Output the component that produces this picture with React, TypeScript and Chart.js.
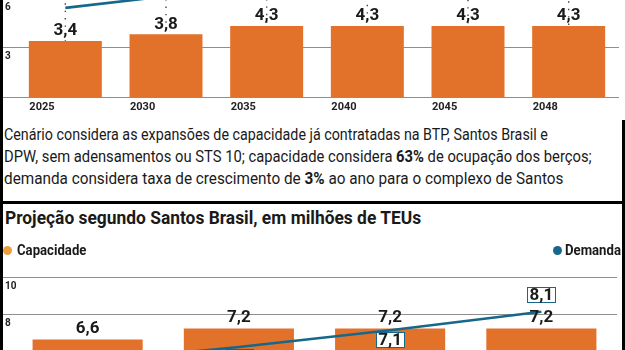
import React, { useEffect, useRef } from "react";
import { Chart, registerables } from "chart.js";

Chart.register(...registerables);

// ---------- data ----------
const topYears = ["2025", "2030", "2035", "2040", "2045", "2048"];
const topCapacity = [3.4, 3.8, 4.3, 4.3, 4.3, 4.3];
const topDemand = [5.4, 6.1, 7.0, 8.0, 9.2, 10.0];
const topGridValues = [0, 3, 6];
const topGridLabels = ["", "3", "6"];

const bottomYears = ["2025", "2030", "2035", "2040"];
const bottomCapacity = [6.6, 7.2, 7.2, 7.2];
const bottomDemand = [5.4, 6.2, 7.1, 8.1];
const bottomGridValues = [8, 10];
const bottomGridLabels = ["8", "10"];

const ORANGE = "#E2722A";
const TEAL = "#17678A";
const INK = "#1a1a1a";

const fmt = (v: number) => v.toFixed(1).replace(".", ",");

const decorPlugin = {
  id: "decor",
  beforeDatasetsDraw(chart: any, _a: any, opts: any) {
    const { ctx, chartArea, scales } = chart;
    ctx.save();
    opts.gridValues.forEach((v: number, i: number) => {
      const py = Math.round(scales.y.getPixelForValue(v)) + 0.5;
      ctx.strokeStyle = "#8e8e8e";
      ctx.lineWidth = 1.2;
      ctx.beginPath();
      ctx.moveTo(3, py);
      ctx.lineTo(chartArea.right, py);
      ctx.stroke();
      const lab = opts.gridLabels[i];
      if (lab) {
        ctx.fillStyle = "#222";
        ctx.font = "bold 10px Roboto";
        ctx.textAlign = "left";
        ctx.textBaseline = "top";
        ctx.fillText(lab, 5, py + 4);
      }
    });
    ctx.restore();
  },
  afterDatasetsDraw(chart: any, _a: any, opts: any) {
    const { ctx } = chart;
    const bars = chart.getDatasetMeta(0).data;
    const pts = chart.getDatasetMeta(1).data;
    const cap = chart.data.datasets[0].data as number[];
    const dem = chart.data.datasets[1].data as number[];
    ctx.save();
    if (opts.dropLines) {
      ctx.setLineDash([1.4, 6]);
      ctx.strokeStyle = "#444";
      ctx.lineWidth = 1.4;
      bars.forEach((b: any, i: number) => {
        const p = pts[i];
        ctx.beginPath();
        ctx.moveTo(b.x, p.y - 12);
        ctx.lineTo(b.x, b.y);
        ctx.stroke();
      });
      ctx.setLineDash([]);
    }
    ctx.font = "bold 17px Roboto";
    ctx.textAlign = "center";
    ctx.textBaseline = "middle";
    ctx.fillStyle = INK;
    bars.forEach((b: any, i: number) => {
      ctx.fillText(fmt(cap[i]), b.x, b.y - opts.labelGap);
    });
    pts.forEach((p: any, i: number) => {
      const txt = fmt(dem[i]);
      const w = Math.round(ctx.measureText(txt).width + 4);
      const h = 15;
      const below = dem[i] < cap[i];
      const cy = below ? p.y + 2 + h / 2 : p.y - 10 - h / 2;
      const bx = Math.round(p.x - w / 2) + 0.5;
      const by = Math.round(cy - h / 2) + 0.5;
      ctx.fillStyle = "#fff";
      ctx.fillRect(bx, by, w, h);
      ctx.strokeStyle = TEAL;
      ctx.lineWidth = 1;
      ctx.strokeRect(bx, by, w, h);
      ctx.fillStyle = INK;
      ctx.fillText(txt, p.x, cy + 1);
    });
    ctx.restore();
  },
};

function buildConfig(p: {
  labels: string[];
  capacity: number[];
  demand: number[];
  yMax: number;
  padLeft: number;
  padRight: number;
  barPct: number;
  showX: boolean;
  gridValues: number[];
  gridLabels: string[];
  dropLines: boolean;
  labelGap: number;
  labelOffset: number;
}): any {
  return {
    type: "bar",
    data: {
      labels: p.labels,
      datasets: [
        {
          type: "bar",
          data: p.capacity,
          backgroundColor: ORANGE,
          categoryPercentage: 1,
          barPercentage: p.barPct,
          order: 2,
        },
        {
          type: "line",
          data: p.demand,
          borderColor: TEAL,
          borderWidth: 2.6,
          pointRadius: 0,
          tension: 0,
          order: 1,
        },
      ],
    },
    options: {
      animation: false,
      responsive: false,
      events: [],
      layout: { padding: { left: p.padLeft, right: p.padRight, top: 0, bottom: 0 } },
      plugins: {
        legend: { display: false },
        tooltip: { enabled: false },
        decor: {
          gridValues: p.gridValues,
          gridLabels: p.gridLabels,
          dropLines: p.dropLines,
          labelGap: p.labelGap,
        },
      },
      scales: {
        x: {
          display: p.showX,
          grid: { display: false, drawTicks: false },
          border: { display: false },
          ticks: {
            align: "start",
            labelOffset: p.labelOffset,
            padding: 4,
            color: "#222",
            font: { family: "Roboto", weight: "bold", size: 11 },
            maxRotation: 0,
            autoSkip: false,
          },
          afterFit: (s: any) => {
            s.height = 16;
          },
        },
        y: { display: false, min: 0, max: p.yMax },
      },
    },
    plugins: [decorPlugin],
  };
}

function ChartCanvas({ config, style, width, height }: any) {
  const ref = useRef<HTMLCanvasElement>(null);
  useEffect(() => {
    if (!ref.current) return;
    const c = new Chart(ref.current, config);
    return () => c.destroy();
  }, []);
  return <canvas ref={ref} width={width} height={height} style={{ position: "absolute", ...style }} />;
}

const noteStyle = (top: number, sx: number): React.CSSProperties => ({
  position: "absolute",
  left: 4,
  top,
  fontFamily: "Roboto",
  fontSize: 17,
  lineHeight: "22px",
  color: INK,
  whiteSpace: "nowrap",
  transform: `scaleX(${sx})`,
  transformOrigin: "left center",
});

const legendText = (left: number): React.CSSProperties => ({
  position: "absolute",
  left,
  top: 241,
  fontFamily: "Roboto",
  fontWeight: 700,
  fontSize: 14,
  lineHeight: "18px",
  color: INK,
  whiteSpace: "nowrap",
  transform: "scaleX(0.94)",
  transformOrigin: "left center",
});

export default function App() {
  useEffect(() => {
    document.body.style.margin = "0";
  }, []);

  const topCfg = buildConfig({
    labels: topYears,
    capacity: topCapacity,
    demand: topDemand,
    yMax: 8.3,
    padLeft: 15,
    padRight: 6,
    barPct: 0.725,
    showX: true,
    gridValues: topGridValues,
    gridLabels: topGridLabels,
    dropLines: true,
    labelGap: 10,
    labelOffset: -36,
  });
  const bottomCfg = buildConfig({
    labels: bottomYears,
    capacity: bottomCapacity,
    demand: bottomDemand,
    yMax: 11,
    padLeft: 12,
    padRight: 8,
    barPct: 0.728,
    showX: false,
    gridValues: bottomGridValues,
    gridLabels: bottomGridLabels,
    dropLines: false,
    labelGap: 11,
    labelOffset: 0,
  });

  return (
    <div
      style={{
        position: "fixed",
        left: 0,
        top: 0,
        width: 625,
        height: 350,
        overflow: "hidden",
        background: "#fff",
      }}
    >
      <ChartCanvas config={topCfg} width={625} height={153} style={{ left: 0, top: -40 }} />
      <ChartCanvas config={bottomCfg} width={625} height={220} style={{ left: 0, top: 258 }} />

      <div style={noteStyle(123, 0.84)}>
        Cenário considera as expansões de capacidade já contratadas na BTP, Santos Brasil e
      </div>
      <div style={noteStyle(145, 0.868)}>
        DPW, sem adensamentos ou STS 10; capacidade considera <b>63%</b> de ocupação dos berços;
      </div>
      <div style={noteStyle(167, 0.9)}>
        demanda considera taxa de crescimento de <b>3%</b> ao ano para o complexo de Santos
      </div>

      <div style={{ position: "absolute", left: 3, top: 201, width: 622, height: 3, background: "#000" }} />

      <div
        style={{
          position: "absolute",
          left: 5,
          top: 207,
          fontFamily: "Roboto",
          fontWeight: 700,
          fontSize: 19,
          lineHeight: "22px",
          color: INK,
          whiteSpace: "nowrap",
          transform: "scaleX(0.915)",
          transformOrigin: "left center",
        }}
      >
        Projeção segundo Santos Brasil, em milhões de TEUs
      </div>

      <div style={{ position: "absolute", left: 3, top: 246, width: 9, height: 9, borderRadius: "50%", background: "#E9A03C" }} />
      <div style={legendText(17)}>Capacidade</div>
      <div style={{ position: "absolute", left: 553, top: 246, width: 9, height: 9, borderRadius: "50%", background: TEAL }} />
      <div style={legendText(565)}>Demanda</div>

      <div style={{ position: "absolute", left: 0, top: 0, width: 3, height: 350, background: "#000" }} />
      <div style={{ position: "absolute", left: 622, top: 120, width: 3, height: 230, background: "#000" }} />
    </div>
  );
}
